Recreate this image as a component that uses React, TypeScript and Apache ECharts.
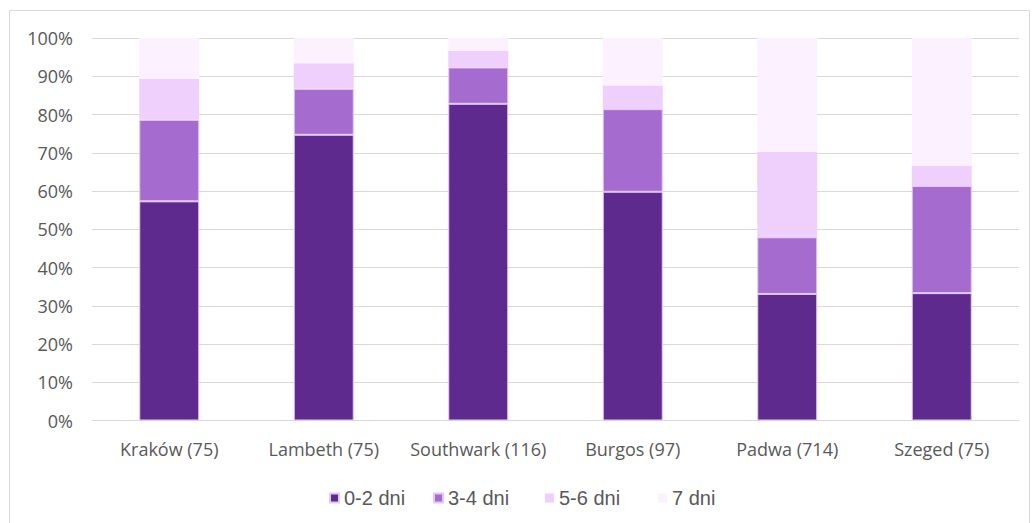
import React, { useEffect, useRef } from "react";
import * as echarts from "echarts";

// Sites with the number of respondents in brackets
const categories = [
  "Kraków (75)",
  "Lambeth (75)",
  "Southwark (116)",
  "Burgos (97)",
  "Padwa (714)",
  "Szeged (75)",
];

// Share of respondents (%) per number of days
const days0to2 = [57.3, 74.7, 82.8, 59.8, 33.1, 33.3];
const days3to4 = [21.3, 12.0, 9.5, 21.6, 14.8, 28.0];
const days5to6 = [10.7, 6.7, 4.3, 6.2, 22.3, 5.3];
const days7 = [10.7, 6.6, 3.4, 12.4, 29.8, 33.4];

const seriesNames = ["0-2 dni", "3-4 dni", "5-6 dni", "7 dni"];
const seriesColors = ["#5F2A8D", "#A56BCF", "#EFD0FC", "#FBF1FF"];
const legendLefts = [324, 428, 540, 653];

export default function App() {
  const ref = useRef<HTMLDivElement>(null);

  useEffect(() => {
    if (!ref.current) return;
    const chart = echarts.init(ref.current, null, { renderer: "svg" });
    const values = [days0to2, days3to4, days5to6, days7];
    const axisFont = "'Open Sans', sans-serif";

    chart.setOption({
      animation: false,
      backgroundColor: "#ffffff",
      graphic: [
        {
          type: "rect",
          shape: { x: 9.5, y: 10.5, width: 1020, height: 530 },
          style: { fill: "none", stroke: "#D9D9D9", lineWidth: 1 },
          silent: true,
        },
      ],
      grid: { left: 92, right: 15, top: 38, bottom: 102.5 },
      // one legend block per entry, so each sits in its own slot
      legend: seriesNames.map((name, i) => ({
        left: legendLefts[i],
        top: 483,
        icon: "rect",
        itemWidth: 9,
        itemHeight: 9,
        data: [name],
        textStyle: {
          fontFamily: "'Liberation Sans', Arial, sans-serif",
          fontSize: 20,
          color: "#595959",
        },
      })),
      xAxis: {
        type: "category",
        data: categories,
        axisLine: { show: true, lineStyle: { color: "#D9D9D9", width: 1 } },
        axisTick: { show: false },
        axisLabel: {
          interval: 0,
          fontFamily: axisFont,
          fontSize: 18,
          color: "#595959",
          margin: 19,
        },
      },
      yAxis: {
        type: "value",
        min: 0,
        max: 100,
        interval: 10,
        axisLine: { show: false },
        axisTick: { show: false },
        splitLine: { lineStyle: { color: "#D9D9D9", width: 1 } },
        axisLabel: {
          fontFamily: axisFont,
          fontSize: 18,
          color: "#595959",
          margin: 19,
          formatter: "{value}%",
        },
      },
      series: seriesNames.map((name, i) => ({
        name,
        type: "bar",
        stack: "total",
        barWidth: 60,
        data: values[i],
        itemStyle: {
          color: seriesColors[i],
          borderColor: i < 2 ? "#E4C8F4" : seriesColors[i],
          borderWidth: i < 2 ? 1 : 0,
        },
      })),
    });

    return () => chart.dispose();
  }, []);

  return (
    <div
      ref={ref}
      style={{
        position: "fixed",
        left: 0,
        top: 0,
        width: 1034,
        height: 523,
        background: "#ffffff",
      }}
    />
  );
}
